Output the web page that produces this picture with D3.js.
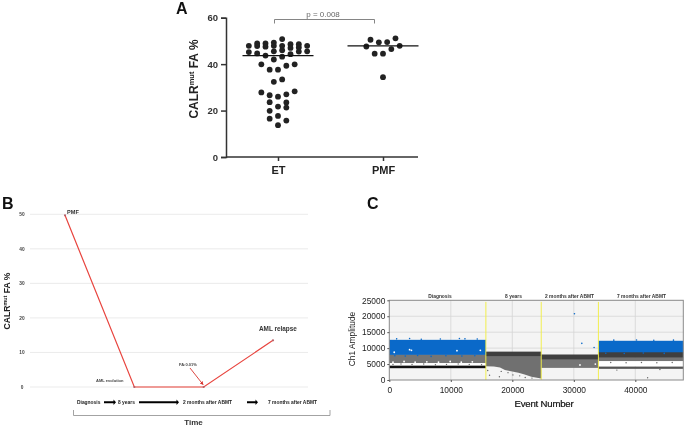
<!DOCTYPE html>
<html>
<head>
<meta charset="utf-8">
<script src="https://cdnjs.cloudflare.com/ajax/libs/d3/7.8.5/d3.min.js"></script>
<style>
  html, body { margin: 0; padding: 0; background: #fff; }
  svg { display: block; font-family: "Liberation Sans", Arial, sans-serif; filter: blur(0.3px); }
</style>
</head>
<body>
<svg id="chart" width="685" height="427"></svg>
<script>
// --- Panel A: column slot (one slot = one dot width) and FA % ---
const groupNames = ["ET", "PMF"];
const etSlots = [-3.5,-3.5,-2.5,-2.5,-2.5,-1.5,-1.5,-1.5,-0.5,-0.5,-0.5,-0.5,0.5,0.5,0.5,0.5,1.5,1.5,1.5,2.5,2.5,2.5,3.5,3.5,
  -2,-1,0,1,2,-0.5,0.5,-2,-1,0,1,2,-1,1,0,1,-1,-1,0,1,0];
const etValues = [47.9,45.2,48.9,47.8,44.6,48.9,47.5,43.7,49.3,47.9,45.5,42,50.8,47.9,46,43.2,48.6,47,44.3,48.6,47.2,45.4,47.9,45.5,
  39.9,37.6,37.6,39.3,39.9,32.4,33.4,27.8,26.6,26,27,28.3,23.6,23.5,21.7,21.3,19.9,16.5,17.7,15.7,13.7];
const pmfSlots = [-1.5,-0.5,0.5,1.5,-2,2,-1,0,1,0];
const pmfValues = [50.5,49.4,49.5,51.1,47.6,47.9,44.5,44.5,46.5,34.4];
const medians = [43.7, 47.9];
const faTicks = [0, 20, 40, 60];

// --- Panel B ---
const timePoints = ["Diagnosis", "8 years", "2 months after ABMT", "7 months after ABMT"];
const faOverTime = [49.7, 0, 0, 13.5];
const faTicksB = [0, 10, 20, 30, 40, 50];

// --- Panel C: droplet clouds read as [from event, to event, low amp, high amp] ---
const segmentNames = ["Diagnosis", "8 years", "2 months after ABMT", "7 months after ABMT"];
const segmentCentres = [8240, 20200, 29300, 41000];
const segmentBreaks = [15700, 24700, 34000];
const blueBands = [[0, 15700, 7900, 12600], [34000, 47800, 8700, 12300]];
const darkBands = [[15700, 24700, 7500, 8900], [24700, 34000, 6400, 8000], [34000, 47800, 7000, 8800]];
const greyBands = [[0, 15700, 5300, 8100], [24700, 34000, 3800, 6500], [34000, 47800, 5900, 7100]];
const clearBands = [[0, 15700, 4500, 5300], [34000, 47800, 4300, 5900]];
const blackLines = [[0, 15700, 3700, 4500]];
const faintLines = [[34000, 47800, 3500, 4200]];
// lower edge of the grey cloud in the 8 years sample
const floorEvents = [15700, 17000, 18000, 18800, 20000, 21000, 22000, 23100, 24000, 24700];
const floorAmps = [4300, 4200, 3900, 3100, 2700, 2300, 1700, 1000, 700, 500];
const blueStrays = [[3300,13000],[1200,12900],[5200,12800],[8300,12850],[11400,13000],[12300,12900],[14300,12850],[30100,20800],[31300,11500],[33300,10200],[36500,12500],[40200,12550],[43000,12450],[46200,12500],[900,7600],[2600,7500],[4600,7700],[6800,7400],[9200,7600],[11800,7500],[13900,7600],[35200,8400],[38200,8300],[41300,8450],[44700,8350]];
const whiteSpecks = [[3300,9500],[3600,9300],[11000,9200],[14800,9300],[800,8700],[31000,4700],[33500,5000],[600,5600],[2400,5800],[4200,5600],[6100,5700],[8000,5600],[9900,5800],[11700,5600],[13500,5700]];
const greySpecks = [[600,4900],[1900,5000],[3700,4900],[5600,5000],[7500,4800],[9300,4900],[11200,5000],[13000,4900],[15000,4800],[16000,3000],[16300,1500],[17900,1000],[18200,2700],[19300,2300],[20100,1600],[21200,1300],[22100,800],[23200,600],[36000,5500],[38500,5400],[41000,5500],[43500,5400],[46000,5500],[42000,700],[37000,3100],[44000,3300]];
const ampTicks = [0, 5000, 10000, 15000, 20000, 25000];
const eventTicks = [0, 10000, 20000, 30000, 40000];

const svg = d3.select("#chart");
const ink = "#222";

function panelLabel(t, x, y) {
    svg.append("text").attr("x", x).attr("y", y).attr("font-size", 16).attr("font-weight", "bold").attr("fill", "#111").text(t);
}
function calrTitle(x, y, size, color) {
    const t = svg.append("text")
        .attr("transform", `translate(${x},${y}) rotate(-90)`)
        .attr("text-anchor", "middle")
        .attr("font-size", size)
        .attr("fill", color);
    t.append("tspan").text("CALR");
    t.append("tspan").attr("font-size", size * 0.62).attr("dy", -size * 0.3).text("mut");
    t.append("tspan").attr("dy", size * 0.3).text(" FA %");
    return t;
}

// ------------------------------
// Panel A
// ------------------------------
panelLabel("A", 176, 14);
const yA = d3.scaleLinear().domain([0, 60]).range([157, 17.7]);
const xA = d3.scalePoint().domain(groupNames).range([278, 383]);
const slotW = 8.33;

const axisA = svg.append("g").attr("transform", "translate(226,0)")
    .call(d3.axisLeft(yA).tickValues(faTicks).tickSize(5).tickPadding(3));
axisA.selectAll("path,line").attr("stroke", "#333").attr("stroke-width", 1.5);
axisA.selectAll("text").attr("font-size", 9.5).attr("font-weight", "bold").attr("fill", "#333").attr("font-family", "inherit");

const axisAx = svg.append("g").attr("transform", "translate(0,157)")
    .call(d3.axisBottom(xA).tickSize(4).tickPadding(5));
axisAx.select("path").attr("d", "M226,0H418").attr("stroke", "#333").attr("stroke-width", 1.5);
axisAx.selectAll("line").attr("stroke", "#333").attr("stroke-width", 1.5);
axisAx.selectAll("text").attr("font-size", 11).attr("font-weight", "bold").attr("fill", "#222").attr("font-family", "inherit");

calrTitle(198, 79, 12, "#222").attr("font-weight", "bold");

[etSlots, pmfSlots].forEach((slots, g) => {
    const values = g === 0 ? etValues : pmfValues;
    svg.append("g").selectAll("circle").data(slots).join("circle")
        .attr("cx", d => xA(groupNames[g]) + d * slotW)
        .attr("cy", (d, i) => yA(values[i]))
        .attr("r", 2.9)
        .attr("fill", ink);
});
svg.append("g").selectAll("line").data(medians).join("line")
    .attr("x1", (d, i) => xA(groupNames[i]) - 35.5)
    .attr("x2", (d, i) => xA(groupNames[i]) + 35.5)
    .attr("y1", d => yA(d)).attr("y2", d => yA(d))
    .attr("stroke", "#111").attr("stroke-width", 1.3);

svg.append("path")
    .attr("d", `M274.5,23.5V19.5H374.5V23.5`)
    .attr("fill", "none").attr("stroke", "#777").attr("stroke-width", 0.9);
svg.append("text").attr("x", 323).attr("y", 16.5).attr("text-anchor", "middle")
    .attr("font-size", 8).attr("fill", "#666").text("p = 0.008");

// ------------------------------
// Panel B
// ------------------------------
panelLabel("B", 2, 209);
const yB = d3.scaleLinear().domain([0, 50]).range([387, 214.3]);
const xB = d3.scalePoint().domain(timePoints).range([65, 273]);

svg.append("g").selectAll("line").data(faTicksB).join("line")
    .attr("x1", 30).attr("x2", 308)
    .attr("y1", d => yB(d)).attr("y2", d => yB(d))
    .attr("stroke", "#e6e6e6").attr("stroke-width", 0.8);
svg.append("g").selectAll("text").data(faTicksB).join("text")
    .attr("x", 22).attr("y", d => yB(d) + 1.7)
    .attr("text-anchor", "middle").attr("font-size", 4.8).attr("font-weight", "bold").attr("fill", "#444")
    .text(d => d);

const lineB = d3.line().x((d, i) => xB(timePoints[i])).y(d => yB(d));
svg.append("path").datum(faOverTime).attr("d", lineB)
    .attr("fill", "none").attr("stroke", "#e8443e").attr("stroke-width", 1.2);
svg.append("line")
    .attr("x1", xB(timePoints[1])).attr("x2", xB(timePoints[2]))
    .attr("y1", yB(0)).attr("y2", yB(0))
    .attr("stroke", "#f09a94").attr("stroke-width", 1.2);
svg.append("g").selectAll("circle").data(faOverTime).join("circle")
    .attr("cx", (d, i) => xB(timePoints[i])).attr("cy", d => yB(d))
    .attr("r", 1.1).attr("fill", "#b5616a");

calrTitle(10, 301, 8.6, "#222").attr("font-weight", "bold");

svg.append("text").attr("x", 67).attr("y", 214).attr("font-size", 5.6).attr("font-weight", "bold").attr("fill", "#333").text("PMF");
svg.append("text").attr("x", 259).attr("y", 331).attr("font-size", 6.4).attr("font-weight", "bold").attr("fill", "#333").text("AML relapse");
svg.append("text").attr("x", 96).attr("y", 381.5).attr("font-size", 4).attr("font-weight", "bold").attr("fill", "#444").text("AML evolution");
svg.append("text").attr("x", 179).attr("y", 366).attr("font-size", 4).attr("font-weight", "bold").attr("fill", "#444").text("FA:0.01%");

svg.append("defs").append("marker").attr("id", "redhead")
    .attr("viewBox", "0 0 6 6").attr("refX", 5).attr("refY", 3)
    .attr("markerWidth", 4).attr("markerHeight", 4).attr("orient", "auto")
    .append("path").attr("d", "M0,0L6,3L0,6Z").attr("fill", "#d8332e");
svg.append("line").attr("x1", 190).attr("y1", 368).attr("x2", 203).attr("y2", 384.5)
    .attr("stroke", "#d8332e").attr("stroke-width", 0.9).attr("marker-end", "url(#redhead)");

// time labels under the axis, with the thick black arrows between them
const timeLabelX = [77, 118, 183, 268];
svg.append("g").selectAll("text").data(timePoints).join("text")
    .attr("x", (d, i) => timeLabelX[i]).attr("y", 404)
    .attr("font-size", 4.9).attr("font-weight", "bold").attr("fill", "#222")
    .text(d => d);
const timeArrows = [[104, 116], [139, 179], [247, 258]];
svg.append("g").selectAll("path").data(timeArrows).join("path")
    .attr("d", d => `M${d[0]},401.3H${d[1] - 2.5}V399.6L${d[1]},402.3L${d[1] - 2.5},405V403.3H${d[0]}Z`)
    .attr("fill", "#000");

svg.append("path").attr("d", "M73.5,410V415.5H330V410")
    .attr("fill", "none").attr("stroke", "#999").attr("stroke-width", 0.9);
svg.append("text").attr("x", 193.5).attr("y", 425).attr("text-anchor", "middle")
    .attr("font-size", 8).attr("font-weight", "bold").attr("fill", "#333").text("Time");

// ------------------------------
// Panel C
// ------------------------------
panelLabel("C", 367, 209);
const xC = d3.scaleLinear().domain([0, 47800]).range([389.3, 683.3]);
const yC = d3.scaleLinear().domain([0, 25000]).range([380, 300.3]);
const plotC = svg.append("g");

plotC.append("rect")
    .attr("x", xC(0)).attr("y", yC(25000))
    .attr("width", xC(47800) - xC(0)).attr("height", yC(0) - yC(25000))
    .attr("fill", "#f4f4f4");
plotC.append("g").selectAll("line").data(ampTicks.slice(1, -1)).join("line")
    .attr("x1", xC(0)).attr("x2", xC(47800)).attr("y1", d => yC(d)).attr("y2", d => yC(d))
    .attr("stroke", "#d6d6d6").attr("stroke-width", 0.8);
plotC.append("g").selectAll("line").data(eventTicks.slice(1)).join("line")
    .attr("x1", d => xC(d)).attr("x2", d => xC(d)).attr("y1", yC(0)).attr("y2", yC(25000))
    .attr("stroke", "#d6d6d6").attr("stroke-width", 0.8);

function drawBands(rows, color) {
    plotC.append("g").selectAll("rect").data(rows).join("rect")
        .attr("x", d => xC(d[0])).attr("width", d => xC(d[1]) - xC(d[0]))
        .attr("y", d => yC(d[3])).attr("height", d => yC(d[2]) - yC(d[3]))
        .attr("fill", color);
}
function drawDots(rows, color, r) {
    plotC.append("g").selectAll("circle").data(rows).join("circle")
        .attr("cx", d => xC(d[0])).attr("cy", d => yC(d[1])).attr("r", r).attr("fill", color);
}

drawBands(greyBands, "#757575");
drawBands(clearBands, "#fff");
const floorArea = d3.area()
    .x((d, i) => xC(floorEvents[i]))
    .y0(d => yC(d))
    .y1(yC(7600));
plotC.append("path").datum(floorAmps).attr("d", floorArea).attr("fill", "#707070");
drawBands(darkBands, "#3f3f3f");
drawBands(blueBands, "#0a69c9");
drawBands(blackLines, "#111");
drawBands(faintLines, "#555");
drawDots(greySpecks, "#666", 0.7);
drawDots(whiteSpecks, "#fff", 0.9);
drawDots(blueStrays, "#0a69c9", 0.8);

plotC.append("g").selectAll("line").data(segmentBreaks).join("line")
    .attr("x1", d => xC(d)).attr("x2", d => xC(d)).attr("y1", yC(24500)).attr("y2", yC(0))
    .attr("stroke", "#f2ee3c").attr("stroke-width", 0.9);

plotC.append("rect")
    .attr("x", xC(0)).attr("y", yC(25000))
    .attr("width", xC(47800) - xC(0)).attr("height", yC(0) - yC(25000))
    .attr("fill", "none").attr("stroke", "#8a8a8a").attr("stroke-width", 1);

const axisCy = svg.append("g").attr("transform", `translate(${xC(0)},0)`)
    .call(d3.axisLeft(yC).tickValues(ampTicks).tickFormat(d3.format("d")).tickSize(2).tickPadding(2));
axisCy.select("path").remove();
axisCy.selectAll("line").attr("stroke", "#555");
axisCy.selectAll("text").attr("font-size", 8.4).attr("fill", "#222").attr("font-family", "inherit");

const axisCx = svg.append("g").attr("transform", `translate(0,${yC(0)})`)
    .call(d3.axisBottom(xC).tickValues(eventTicks).tickFormat(d3.format("d")).tickSize(2).tickPadding(5));
axisCx.select("path").remove();
axisCx.selectAll("line").attr("stroke", "#555");
axisCx.selectAll("text").attr("font-size", 8.4).attr("fill", "#222").attr("font-family", "inherit");

svg.append("g").selectAll("text").data(segmentNames).join("text")
    .attr("x", (d, i) => xC(segmentCentres[i])).attr("y", 297.5)
    .attr("text-anchor", "middle").attr("font-size", 4.9).attr("font-weight", "bold").attr("fill", "#333")
    .text(d => d);

svg.append("text").attr("x", 544).attr("y", 407).attr("text-anchor", "middle")
    .attr("font-size", 9.6).attr("letter-spacing", -0.2).attr("fill", "#111").attr("stroke", "#111").attr("stroke-width", 0.2).text("Event Number");
svg.append("text").attr("transform", "translate(355,339) rotate(-90)").attr("text-anchor", "middle")
    .attr("font-size", 8.4).attr("fill", "#222").text("Ch1 Amplitude");
</script>
</body>
</html>
